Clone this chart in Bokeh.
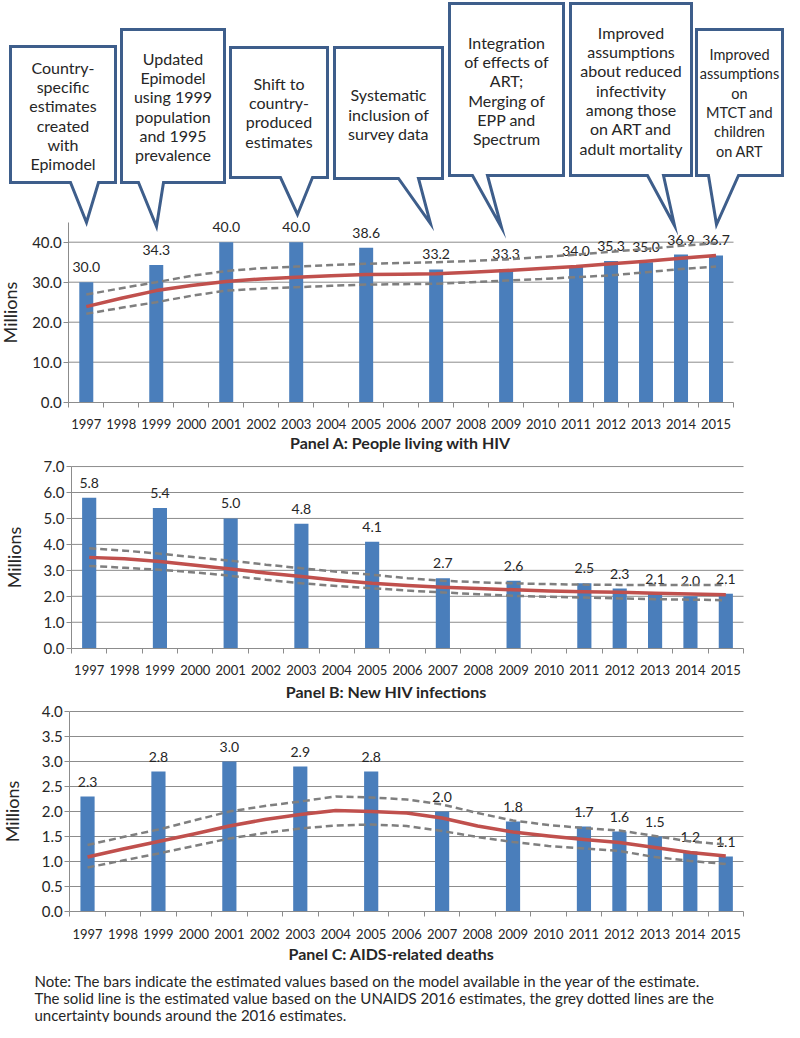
from bokeh.plotting import figure
from bokeh.models import Range1d, LinearAxis, FixedTicker, NumeralTickFormatter
from bokeh.layouts import column
from bokeh.embed import file_html
from bokeh.resources import INLINE
from bokeh.core.properties import value

# ---------------- data ----------------
years = list(range(1997, 2016))
est_years = [1997, 1999, 2001, 2003, 2005, 2007, 2009, 2011, 2012, 2013, 2014, 2015]

plhiv_est = [30.0, 34.3, 40.0, 40.0, 38.6, 33.2, 33.3, 34.0, 35.3, 35.0, 36.9, 36.7]
plhiv_2016 = [23.9, 26.0, 27.9, 29.2, 30.2, 30.8, 31.25, 31.6, 31.9, 32.0, 32.1, 32.5,
              32.9, 33.4, 33.9, 34.6, 35.25, 36.0, 36.7]
plhiv_hi = [26.9, 28.5, 30.0, 31.6, 32.8, 33.5, 33.9, 34.3, 34.6, 34.8, 35.0, 35.3,
            35.7, 36.3, 36.9, 37.6, 38.3, 39.1, 39.75]
plhiv_lo = [22.1, 23.6, 25.0, 26.6, 27.9, 28.4, 28.75, 29.1, 29.4, 29.5, 29.6, 30.0,
            30.4, 30.8, 31.25, 31.7, 32.5, 33.3, 33.9]

inf_est = [5.8, 5.4, 5.0, 4.8, 4.1, 2.7, 2.6, 2.5, 2.3, 2.1, 2.0, 2.1]
inf_2016 = [3.5, 3.45, 3.34, 3.2, 3.05, 2.9, 2.76, 2.62, 2.5, 2.42, 2.35, 2.3,
            2.25, 2.2, 2.18, 2.16, 2.12, 2.09, 2.06]
inf_hi = [3.85, 3.76, 3.64, 3.5, 3.37, 3.22, 3.08, 2.95, 2.83, 2.7, 2.6, 2.54,
          2.5, 2.47, 2.45, 2.44, 2.44, 2.44, 2.44]
inf_lo = [3.17, 3.1, 3.02, 2.92, 2.79, 2.64, 2.5, 2.4, 2.31, 2.22, 2.15, 2.08,
          2.02, 1.98, 1.95, 1.92, 1.89, 1.87, 1.85]

dth_est = [2.3, 2.8, 3.0, 2.9, 2.8, 2.0, 1.8, 1.7, 1.6, 1.5, 1.2, 1.1]
dth_2016 = [1.09, 1.25, 1.4, 1.55, 1.71, 1.84, 1.94, 2.02, 2.0, 1.97, 1.87, 1.71,
            1.59, 1.51, 1.44, 1.38, 1.28, 1.18, 1.11]
dth_hi = [1.33, 1.49, 1.64, 1.82, 2.0, 2.11, 2.2, 2.3, 2.28, 2.24, 2.14, 1.97,
          1.82, 1.73, 1.67, 1.62, 1.51, 1.4, 1.34]
dth_lo = [0.88, 1.02, 1.16, 1.31, 1.46, 1.57, 1.66, 1.72, 1.74, 1.71, 1.61, 1.49,
          1.39, 1.31, 1.26, 1.21, 1.09, 1.01, 0.95]

plhiv_ticks = [0, 10, 20, 30, 40]
inf_ticks = [0, 1, 2, 3, 4, 5, 6, 7]
dth_ticks = [0, 0.5, 1.0, 1.5, 2.0, 2.5, 3.0, 3.5, 4.0]

titles = ["Panel A: People living with HIV", "Panel B: New HIV infections",
          "Panel C: AIDS-related deaths"]

callout_texts = [
    ["Country-", "specific", "estimates", "created", "with", "Epimodel"],
    ["Updated", "Epimodel", "using 1999", "population", "and 1995", "prevalence"],
    ["Shift to", "country-", "produced", "estimates"],
    ["Systematic", "inclusion of", "survey data"],
    ["Integration", "of effects of", "ART;", "Merging of", "EPP and", "Spectrum"],
    ["Improved", "assumptions", "about reduced", "infectivity", "among those",
     "on ART and", "adult mortality"],
    ["Improved", "assumptions", "on", "MTCT and", "children", "on ART"],
]

note_lines = [
    "Note: The bars indicate the estimated values based on the model available in the year of the estimate.",
    "The solid line is the estimated value based on the UNAIDS 2016 estimates, the grey dotted lines are the",
    "uncertainty bounds around the 2016 estimates.",
]

# ---------------- styling / layout ----------------
FONT = "Lato"
BAR = "#4A7EBB"
RED = "#C0504D"
DASH = "#7F7F7F"
AXIS = "#8C8C8C"
TXT = "#262626"
BOX = "#3E5E8B"
W = 784


def panel(page_top, page_h, L, R, y0_page, ppu, ymax_axis, ticks, est, mid, hi, lo,
          title, title_cx, title_y, label_standoff):
    ppy = (R - L) / 19.0
    xs = 1996.5 - L / ppy
    xe = 2015.5 + (W - R) / ppy
    ys = (y0_page - (page_top + page_h)) / ppu
    ye = (y0_page - page_top) / ppu
    p = figure(width=W, height=page_h, x_range=Range1d(xs, xe), y_range=Range1d(ys, ye),
               x_axis_type=None, y_axis_type=None, toolbar_location=None,
               output_backend="svg", min_border=0, outline_line_color=None,
               background_fill_color="white", border_fill_color="white")
    p.extra_x_ranges = {"px": Range1d(0, W)}
    p.extra_y_ranges = {"py": Range1d(page_top + page_h, page_top)}

    xaxis = LinearAxis(fixed_location=0, bounds=(1996.5, 2015.5),
                       ticker=FixedTicker(ticks=years, minor_ticks=[y - 0.5 for y in years] + [2015.5]),
                       major_tick_out=0, major_tick_in=0, major_tick_line_color=None,
                       minor_tick_out=5, minor_tick_in=0, minor_tick_line_color=AXIS,
                       axis_line_color=AXIS, axis_line_width=1,
                       major_label_text_font=FONT, major_label_text_font_size="13px",
                       major_label_text_color=TXT, major_label_standoff=12)
    p.add_layout(xaxis, "below")

    yaxis = LinearAxis(fixed_location=1996.5, bounds=(0, ymax_axis),
                       ticker=FixedTicker(ticks=ticks, minor_ticks=[]),
                       formatter=NumeralTickFormatter(format="0.0"),
                       major_tick_out=5, major_tick_in=0, major_tick_line_color=AXIS,
                       minor_tick_out=0, minor_tick_in=0,
                       axis_line_color=AXIS, axis_line_width=1,
                       major_label_text_font=FONT, major_label_text_font_size="15px",
                       major_label_text_color=TXT, major_label_standoff=2,
                       axis_label="Millions", axis_label_text_font=FONT,
                       axis_label_text_font_size="18px", axis_label_text_font_style="normal",
                       axis_label_text_color=TXT, axis_label_standoff=label_standoff)
    p.add_layout(yaxis, "left")

    grid = [t for t in ticks if t > 0]
    p.segment(x0=[1996.5] * len(grid), x1=[2015.5] * len(grid), y0=grid, y1=grid,
              line_color=AXIS, line_width=1)

    p.vbar(x=est_years, top=est, bottom=0, width=0.4, fill_color=BAR, line_color=None)
    p.text(x=est_years, y=est, text=["%.1f" % v for v in est], text_align="center",
           text_baseline="middle", y_offset=-15, text_font=value(FONT),
           text_font_size="14px", text_color=TXT)
    p.line(years, hi, line_color=DASH, line_width=2.5, line_dash="7 4")
    p.line(years, lo, line_color=DASH, line_width=2.5, line_dash="7 4")
    p.line(years, mid, line_color=RED, line_width=3.5, line_join="round")

    p.text(x=[title_cx], y=[title_y], text=[title], x_range_name="px", y_range_name="py",
           text_align="center", text_baseline="middle", text_font=value(FONT),
           text_font_size="16px", text_font_style="bold", text_color=TXT)
    return p


# Panel A (with callouts) -- canvas coordinates
pA = panel(0, 456, 68.3, 733, 401.7, 4.0, 45, plhiv_ticks, plhiv_est, plhiv_2016,
           plhiv_hi, plhiv_lo, titles[0], 400, 442, 8)

# callout geometry: left, top, right, bottom, base1, base2, tip_x, tip_y, text_cx, first_line_y, font
callout_geom = [
    (10, 46, 115, 182, 70, 98, 86, 222, 62.5, 66.7, "16px"),
    (121, 29, 224, 182, 138, 163, 156, 226, 172.5, 57.7, "16px"),
    (230, 47, 327, 177, 280, 312, 297, 214, 278.5, 82.7, "16px"),
    (334, 47, 442, 178, 398, 418, 430, 223, 388, 94.3, "16px"),
    (449, 3, 563, 175, 472, 487, 501, 227, 506, 41.7, "16px"),
    (570, 3, 691, 175, 647, 663, 674, 225, 630.5, 31.7, "16px"),
    (696, 29, 782, 175, 708, 738, 716, 224, 739, 54.0, "14.5px"),
]
cx_list, cy_list = [], []
tx, ty, tt, tf = [], [], [], []
for (l, t, r, b, b1, b2, tpx, tpy, tcx, fy, fs), lines in zip(callout_geom, callout_texts):
    cx_list.append([l, r, r, b2, tpx, b1, l])
    cy_list.append([t, t, b, b, tpy, b, b])
    for i, s in enumerate(lines):
        tx.append(tcx)
        ty.append(fy + i * 19.3)
        tt.append(s)
        tf.append(fs)
# draw callouts beneath data
r = pA.patches(xs=cx_list, ys=cy_list, x_range_name="px", y_range_name="py",
               fill_color="white", line_color=BOX, line_width=3, line_join="miter")
pA.renderers.remove(r)
pA.renderers.insert(0, r)
pA.text(x=tx, y=ty, text=tt, text_font_size=tf, x_range_name="px", y_range_name="py",
        text_align="center", text_baseline="middle", text_font=value(FONT), text_color=TXT)

# Panel B
pB = panel(456, 244, 71, 743, 647.7, 25.95, 7, inf_ticks, inf_est, inf_2016,
           inf_hi, inf_lo, titles[1], 386, 691, 16)

# Panel C
pC = panel(700, 267, 69.3, 743, 911, 50.0, 4.0, dth_ticks, dth_est, dth_2016,
           dth_hi, dth_lo, titles[2], 391, 953, 16)

# Note
pN = figure(width=W, height=55, x_range=Range1d(0, W), y_range=Range1d(1022, 967),
            x_axis_type=None, y_axis_type=None, toolbar_location=None,
            output_backend="svg", min_border=0, outline_line_color=None)
pN.text(x=[34] * 3, y=[980, 997, 1014], text=note_lines, text_align="left",
        text_baseline="middle", text_font=value(FONT), text_font_size="15px", text_color=TXT)

layout = column(pA, pB, pC, pN, spacing=0)
open("out.html", "w").write(file_html(layout, INLINE))
